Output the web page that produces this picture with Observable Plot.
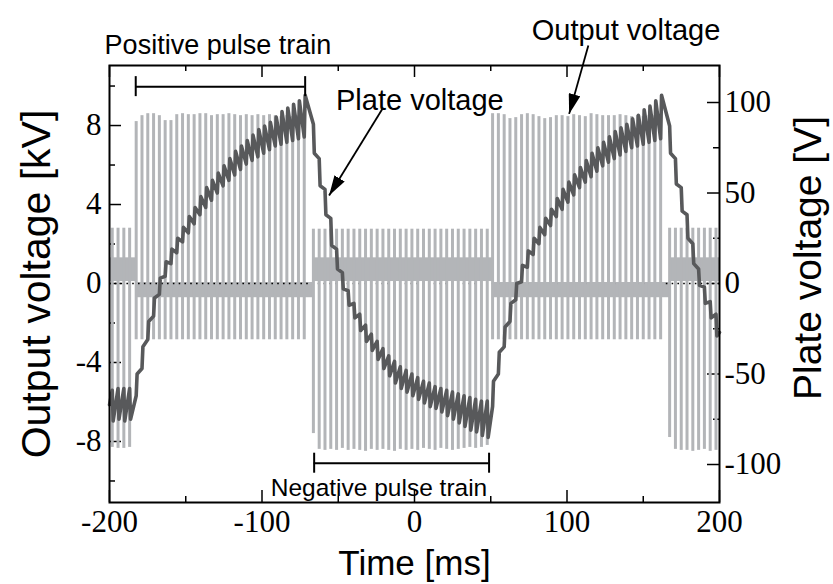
<!DOCTYPE html>
<html><head><meta charset="utf-8">
<script src="https://cdn.jsdelivr.net/npm/d3@7"></script>
<script src="https://cdn.jsdelivr.net/npm/@observablehq/plot@0.6"></script>
<style>html,body{margin:0;padding:0;background:#fff;} #chart{width:833px;height:584px;overflow:hidden;}</style>
</head><body><div id="chart"></div><script>
// ---------------- DATA ----------------
// x axis (Time [ms])
const xTickLabels = [-200, -100, 0, 100, 200];
const xMajorTicks = [-200, -100, 0, 100, 200];
const xMinorTicks = [-150, -50, 50, 150];
// left axis (Output voltage [kV])
const leftTickLabels = [-8, -4, 0, 4, 8];
const leftMajorTicks = [-8, -4, 0, 4, 8];
const leftMinorTicks = [-10, -6, -2, 2, 6, 10];
// right axis (Plate voltage [V])
const rightTickLabels = [-100, -50, 0, 50, 100];
const rightMajorTicks = [-100, -50, 0, 50, 100];
const rightMinorTicks = [-75, -25, 25, 75];

// pulse trains (sign alternates), ringing band and overshoot per train
const trainName      = ["negative", "positive", "negative", "positive", "negative"];
const trainStart     = [-200, -182.5, -66.3, 51.2, 167.3];
const trainEnd       = [-182.5, -66.3, 51.2, 167.3, 200];
const trainOvershoot = [2.8, -2.85, 2.75, -2.85, 2.8];
const bandLo         = [0.1, -0.72, 0.1, -0.72, 0.1];
const bandHi         = [1.3, 0.05, 1.3, 0.05, 1.3];

// each output-voltage pulse: time [ms] and peak [kV]
const pulseTime = [
  -198.2, -194.4, -190.6, -186.8,
  -182.5, -178.7, -174.9, -171.1, -167.3, -163.5, -159.7, -155.9, -152.1, -148.3,
  -144.5, -140.7, -136.9, -133.1, -129.3, -125.5, -121.7, -117.9, -114.1, -110.3,
  -106.5, -102.7, -98.9, -95.1, -91.3, -87.5, -83.7, -79.9, -76.1, -72.3,
  -66.3, -62.5, -58.7, -54.9, -51.1, -47.3, -43.5, -39.7, -35.9, -32.1,
  -28.3, -24.5, -20.7, -16.9, -13.1, -9.3, -5.5, -1.7, 2.1, 5.9,
  9.7, 13.5, 17.3, 21.1, 24.9, 28.7, 32.5, 36.3, 40.1, 43.9, 47.7,
  51.2, 55.0, 58.8, 62.6, 66.4, 70.2, 74.0, 77.8, 81.6, 85.4,
  89.2, 93.0, 96.8, 100.6, 104.4, 108.2, 112.0, 115.8, 119.6, 123.4,
  127.2, 131.0, 134.8, 138.6, 142.4, 146.2, 150.0, 153.8, 157.6, 161.4,
  167.3, 171.1, 174.9, 178.7, 182.5, 186.3, 190.1, 193.9, 197.7
];
const pulsePeak = [
  -8.3, -8.35, -8.35, -8.3,
  8.2, 8.5, 8.6, 8.6, 8.5, 8.25, 8.25, 8.55, 8.6, 8.55,
  8.55, 8.6, 8.6, 8.5, 8.55, 8.55, 8.6, 8.55, 8.5, 8.55,
  8.5, 8.55, 8.5, 8.55, 8.5, 8.45, 8.5, 8.45, 8.5, 8.5,
  -7.6, -8.4, -8.45, -8.4, -8.45, -8.35, -8.45, -8.4, -8.45, -8.5,
  -8.4, -8.45, -8.4, -8.45, -8.5, -8.4, -8.45, -8.4, -8.45, -8.35,
  -8.4, -8.45, -8.35, -8.4, -8.45, -8.4, -8.35, -8.3, -8.35, -8.3, -8.2,
  8.6, 8.6, 8.55, 8.35, 8.4, 8.55, 8.6, 8.55, 8.45, 8.35,
  8.4, 8.5, 8.5, 8.45, 8.55, 8.5, 8.45, 8.6, 8.55, 8.5,
  8.5, 8.5, 8.55, 8.5, 8.45, 8.5, 8.45, 8.5, 8.5, 8.45,
  -7.8, -8.4, -8.45, -8.45, -8.5, -8.45, -8.4, -8.5, -8.45
];
// plate voltage [V] just before and just after each pulse
const plateStart = -67;
const plateEnd = -27;
const plateBefore = [
  -59, -58, -58, -58,
  -62, -47, -31, -18, -6, 4, 11, 17, 23, 28,
  33, 38, 42, 46, 50, 54, 57, 60, 63, 66,
  68, 70, 72, 74, 76, 77, 78, 79, 80, 81,
  88, 69, 52, 36, 19, 6, -4, -11, -17, -23,
  -28, -32, -36, -40, -43, -46, -48, -50, -52, -54,
  -55, -57, -58, -59, -60, -61, -62, -63, -64, -65, -65,
  -68, -50, -35, -21, -9, 1, 9, 16, 22, 27,
  32, 37, 41, 45, 49, 53, 56, 59, 62, 65,
  67, 69, 71, 73, 75, 76, 77, 78, 79, 80,
  87, 69, 53, 38, 22, 8, -2, -10, -17
];
const plateAfter = [
  -76, -75, -76, -75,
  -50, -35, -21, -8, 3, 12, 19, 25, 31, 37,
  42, 48, 53, 57, 61, 65, 69, 73, 76, 79,
  82, 85, 87, 89, 92, 95, 97, 99, 101, 104,
  72, 54, 38, 21, 8, -3, -12, -19, -26, -32,
  -37, -42, -47, -51, -55, -58, -60, -62, -64, -66,
  -68, -69, -71, -73, -75, -77, -79, -81, -82, -84, -85,
  -54, -38, -24, -11, 0, 10, 18, 25, 31, 36,
  41, 47, 52, 56, 60, 64, 68, 72, 75, 78,
  81, 84, 86, 88, 91, 93, 96, 98, 101, 104,
  72, 55, 40, 25, 11, -1, -11, -19, -29
];

// annotations (data coordinates: ms, kV)
const annText = ["Positive pulse train", "Output voltage", "Plate voltage", "Negative pulse train"];
const annX = [-128.9, 138.7, 3.5, -23.3];
const annY = [12.05, 12.81, 9.27, -10.38];
const bracketX1 = [-182.8, -65.8];
const bracketX2 = [-71.7, 48.9];
const bracketY = [9.97, -9.1];
const arrowX1 = [-21.0, 114.0];
const arrowY1 = [8.85, 12.05];
const arrowX2 = [-56.0, 101.4];
const arrowY2 = [4.46, 8.59];

// ---------------- LAYOUT / STYLE ----------------
const W = 833, H = 584, ML = 109, MR = 114, MT = 65, MB = 82;
const X_DOMAIN = [-200, 200];
const Y_DOMAIN = [-11.09, 11.04];
const RATIO = 10.91; // right axis volts per left axis kV
const pxX = (W - ML - MR) / (X_DOMAIN[1] - X_DOMAIN[0]);
const pxY = (H - MT - MB) / (Y_DOMAIN[1] - Y_DOMAIN[0]);
const LIGHT = "#b3b5b8", DARK = "#58595b";
const SANS = "Liberation Sans";
const SERIF = "Liberation Serif";
const TICK_FONT = 31;
const JUMP_MS = 0.6;
const MAJ = 12, MIN = 6, CAP = 10;

// ---------------- TABLES ----------------
const trainOf = t => trainStart.findIndex((s, j) => t >= s && t < trainEnd[j]);
const pulses = pulseTime.map((t, i) => ({t, peak: pulsePeak[i], over: trainOvershoot[trainOf(t)]}));
const bands = trainStart.map((s, j) => ({x1: s, x2: trainEnd[j], y1: bandLo[j], y2: bandHi[j]}));
const plate = [{t: X_DOMAIN[0], v: plateStart}];
pulseTime.forEach((t, i) => { plate.push({t, v: plateBefore[i]}, {t: t + JUMP_MS, v: plateAfter[i]}); });
plate.push({t: X_DOMAIN[1], v: plateEnd});
const brackets = bracketX1.map((x1, i) => ({x1, x2: bracketX2[i], y: bracketY[i]}));
const bracketCaps = brackets.flatMap(b => [{x: b.x1, y: b.y}, {x: b.x2, y: b.y}]);
const arrows = arrowX1.map((x1, i) => ({x1, y1: arrowY1[i], x2: arrowX2[i], y2: arrowY2[i]}));
const anns = annText.map((text, i) => ({text, x: annX[i], y: annY[i]}));
const annSize = [27, 29, 29, 24.5];

function filledArrow(color, context) {
  const doc = (context && context.document) || document;
  const NS = "http://www.w3.org/2000/svg";
  const m = doc.createElementNS(NS, "marker");
  m.setAttribute("viewBox", "0 -5 10 10");
  m.setAttribute("refX", "10");
  m.setAttribute("refY", "0");
  m.setAttribute("markerUnits", "userSpaceOnUse");
  m.setAttribute("markerWidth", "20");
  m.setAttribute("markerHeight", "12");
  m.setAttribute("preserveAspectRatio", "none");
  m.setAttribute("orient", "auto");
  const p = doc.createElementNS(NS, "path");
  p.setAttribute("d", "M0,-5L10,0L0,5Z");
  p.setAttribute("fill", color);
  p.setAttribute("stroke", "none");
  m.appendChild(p);
  return m;
}

const tickText = {fontFamily: SERIF, fontSize: TICK_FONT, tickSize: 0, label: null};

function build(marker) {
  return Plot.plot({
    width: W, height: H,
    marginLeft: ML, marginRight: MR, marginTop: MT, marginBottom: MB,
    x: {domain: X_DOMAIN},
    y: {domain: Y_DOMAIN},
    style: "background: white; color: black; overflow: visible;",
    marks: [
      // ticks (inward), drawn below data
      Plot.ruleY(leftMajorTicks, {y: d => d, x1: X_DOMAIN[0], x2: X_DOMAIN[0] + MAJ / pxX, stroke: "black", strokeWidth: 1.5}),
      Plot.ruleY(leftMinorTicks, {y: d => d, x1: X_DOMAIN[0], x2: X_DOMAIN[0] + MIN / pxX, stroke: "black", strokeWidth: 1.5}),
      Plot.ruleY(rightMajorTicks, {y: d => d / RATIO, x1: X_DOMAIN[1] - MAJ / pxX, x2: X_DOMAIN[1], stroke: "black", strokeWidth: 1.5}),
      Plot.ruleY(rightMinorTicks, {y: d => d / RATIO, x1: X_DOMAIN[1] - MIN / pxX, x2: X_DOMAIN[1], stroke: "black", strokeWidth: 1.5}),
      Plot.ruleX(xMajorTicks, {x: d => d, y1: Y_DOMAIN[0], y2: Y_DOMAIN[0] + MAJ / pxY, stroke: "black", strokeWidth: 1.5}),
      Plot.ruleX(xMinorTicks, {x: d => d, y1: Y_DOMAIN[0], y2: Y_DOMAIN[0] + MIN / pxY, stroke: "black", strokeWidth: 1.5}),
      Plot.ruleX(xMajorTicks, {x: d => d, y1: Y_DOMAIN[1] - MAJ / pxY, y2: Y_DOMAIN[1], stroke: "black", strokeWidth: 1.5}),
      Plot.ruleX(xMinorTicks, {x: d => d, y1: Y_DOMAIN[1] - MIN / pxY, y2: Y_DOMAIN[1], stroke: "black", strokeWidth: 1.5}),
      // ringing band
      Plot.rect(bands, {x1: "x1", x2: "x2", y1: "y1", y2: "y2", fill: LIGHT}),
      // zero line
      Plot.ruleY([0], {stroke: "black", strokeWidth: 1.6, strokeDasharray: "1.6,4.2"}),
      // output voltage pulses
      Plot.ruleX(pulses, {x: "t", y1: "over", y2: "peak", stroke: LIGHT, strokeWidth: 3}),
      // plate voltage
      Plot.line(plate, {x: "t", y: d => d.v / RATIO, stroke: DARK, strokeWidth: 3.6, strokeLinejoin: "round"}),
      Plot.frame({stroke: "black", strokeWidth: 2}),
      // axes labels
      Plot.axisX({...tickText, anchor: "bottom", ticks: xTickLabels, tickPadding: 7, tickFormat: d => String(d)}),
      Plot.axisY({...tickText, anchor: "left", ticks: leftTickLabels, tickPadding: 8, tickFormat: d => String(d)}),
      Plot.axisY({...tickText, anchor: "right", ticks: rightTickLabels.map(v => v / RATIO), tickPadding: 5, tickFormat: d => String(Math.round(d * RATIO))}),
      // axis titles
      Plot.text(["Output voltage [kV]"], {text: d => d, frameAnchor: "left", dx: -73, rotate: -90, textAnchor: "middle", lineAnchor: "middle", fontFamily: SANS, fontSize: 41}),
      Plot.text(["Plate voltage [V]"], {text: d => d, frameAnchor: "right", dx: 89, dy: -26, rotate: -90, textAnchor: "middle", lineAnchor: "middle", fontFamily: SANS, fontSize: 39}),
      Plot.text(["Time [ms]"], {text: d => d, frameAnchor: "bottom", dy: 61, textAnchor: "middle", lineAnchor: "middle", fontFamily: SANS, fontSize: 35}),
      // brackets
      Plot.ruleY(brackets, {y: "y", x1: "x1", x2: "x2", stroke: "black", strokeWidth: 2}),
      Plot.ruleX(bracketCaps, {x: "x", y1: d => d.y - CAP / pxY, y2: d => d.y + CAP / pxY, stroke: "black", strokeWidth: 2}),
      // arrows
      Plot.link(arrows, {x1: "x1", y1: "y1", x2: "x2", y2: "y2", stroke: "black", strokeWidth: 1.8, markerEnd: marker}),
      // annotations
      ...anns.map((a, i) => Plot.text([a], {x: "x", y: "y", text: "text", fontFamily: SANS, fontSize: annSize[i]}))
    ]
  });
}

let chart;
try { chart = build(filledArrow); } catch (e) { chart = build("arrow"); }
document.getElementById("chart").appendChild(chart);
</script></body></html>
